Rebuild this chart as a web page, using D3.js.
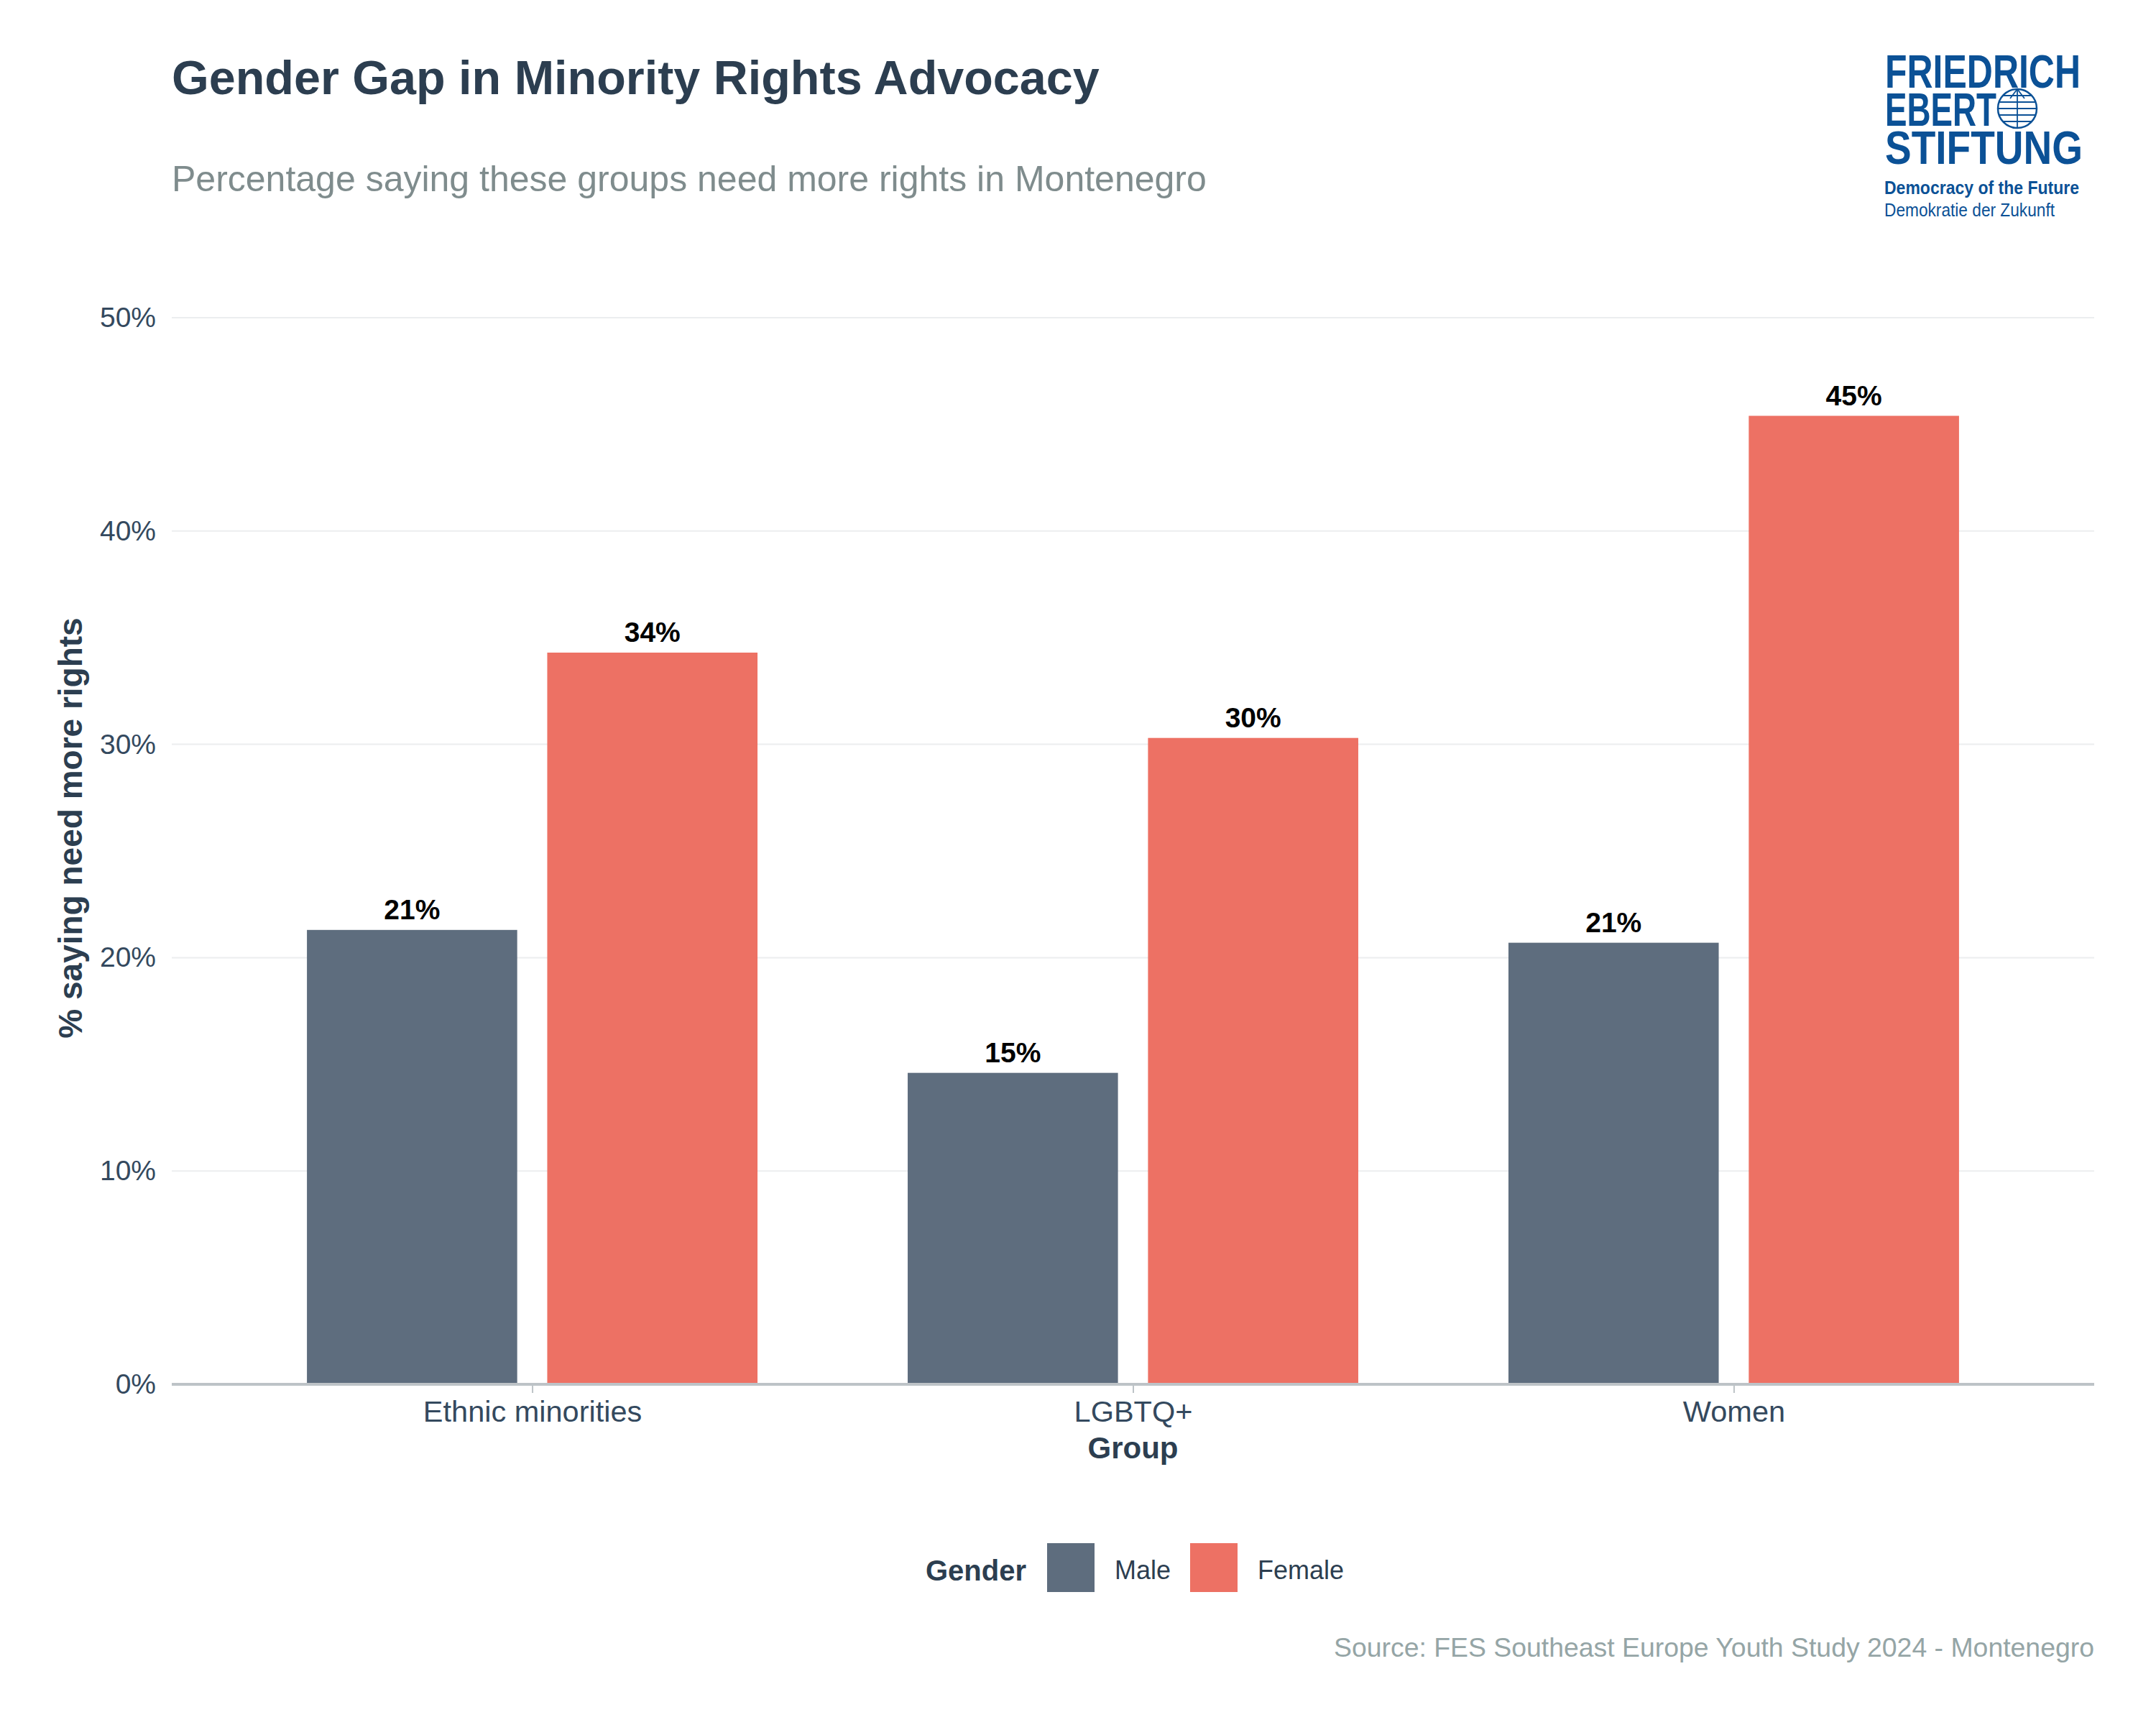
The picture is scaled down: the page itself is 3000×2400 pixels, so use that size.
<!DOCTYPE html>
<html lang="en">
<head>
<meta charset="UTF-8" />
<title>index</title>
<script src="https://d3js.org/d3.v7.min.js"></script>
<style>
  body { margin: 0; background: #ffffff; }
  text { font-family: "Liberation Sans", Arial, sans-serif; }
</style>
</head>
<body>
<div id="my_dataviz"></div>
<script>
// data
var groups = ["Ethnic minorities", "LGBTQ+", "Women"];
var genders = ["Male", "Female"];
var maleValues = [21.3, 14.6, 20.7];
var femaleValues = [34.3, 30.3, 45.4];
var yTicks = [0, 10, 20, 30, 40, 50];

var colors = { Male: "#5E6D7E", Female: "#ED7164" };

var W = 3000, H = 2400;
var margin = { top: 442, right: 86, bottom: 474, left: 239 };
var width = W - margin.left - margin.right,
    height = H - margin.top - margin.bottom;

var rows = [];
groups.forEach(function(g, i) {
  rows.push({ group: g, gender: "Male", value: maleValues[i] });
  rows.push({ group: g, gender: "Female", value: femaleValues[i] });
});

var svg = d3.select("#my_dataviz")
  .append("svg")
    .attr("width", W)
    .attr("height", H);

var g = svg.append("g")
    .attr("transform", "translate(" + margin.left + "," + margin.top + ")");

// x: ggplot style discrete scale, 0.6 expansion each side
var x = d3.scalePoint()
  .domain(groups)
  .range([0, width])
  .padding(0.6);
var step = x.step();
var x1 = d3.scaleBand()
  .domain(genders)
  .range([-0.4 * step, 0.4 * step]);
var barW = 0.35 * step;

var y = d3.scaleLinear()
  .domain([0, 50])
  .range([height, 0]);

// grid
g.selectAll(".grid")
  .data(yTicks.filter(function(d) { return d > 0; }))
  .enter().append("line")
    .attr("x1", 0).attr("x2", width)
    .attr("y1", function(d) { return y(d); })
    .attr("y2", function(d) { return y(d); })
    .attr("stroke", "#ECEEEF")
    .attr("stroke-width", 2);

// y axis labels
var yAxis = g.append("g")
  .call(d3.axisLeft(y).tickValues(yTicks).tickSize(0).tickPadding(22)
    .tickFormat(function(d) { return d + "%"; }));
yAxis.select(".domain").remove();
yAxis.selectAll("text")
  .attr("font-family", "Liberation Sans, Arial, sans-serif")
  .attr("font-size", 39)
  .attr("fill", "#34495E");

// bars
g.selectAll("rect.bar")
  .data(rows)
  .enter().append("rect")
    .attr("class", "bar")
    .attr("x", function(d) { return x(d.group) + x1(d.gender) + (x1.bandwidth() - barW) / 2; })
    .attr("y", function(d) { return y(d.value); })
    .attr("width", barW)
    .attr("height", function(d) { return height - y(d.value); })
    .attr("fill", function(d) { return colors[d.gender]; });

// value labels
g.selectAll("text.val")
  .data(rows)
  .enter().append("text")
    .attr("class", "val")
    .attr("x", function(d) { return x(d.group) + x1(d.gender) + x1.bandwidth() / 2; })
    .attr("y", function(d) { return y(d.value) - 15; })
    .attr("text-anchor", "middle")
    .attr("font-size", 39)
    .attr("font-weight", "bold")
    .attr("fill", "#000000")
    .text(function(d) { return Math.round(d.value) + "%"; });

// x axis
var xAxis = g.append("g")
  .attr("transform", "translate(0," + height + ")")
  .call(d3.axisBottom(x).tickSize(12).tickPadding(11));
xAxis.select(".domain")
  .attr("d", "M0,0H" + width)
  .attr("stroke", "#BDC3C7")
  .attr("stroke-width", 4);
xAxis.selectAll(".tick line").attr("stroke", "#BDC3C7").attr("stroke-width", 2);
xAxis.selectAll("text")
  .attr("font-family", "Liberation Sans, Arial, sans-serif")
  .attr("font-size", 41.5)
  .attr("fill", "#34495E");

// axis titles
g.append("text")
  .attr("x", x(groups[1]))
  .attr("y", height + 103)
  .attr("text-anchor", "middle")
  .attr("font-size", 42)
  .attr("font-weight", "bold")
  .attr("fill", "#2C3E50")
  .text("Group");

svg.append("text")
  .attr("transform", "translate(114,1152) rotate(-90)")
  .attr("text-anchor", "middle")
  .attr("font-size", 46)
  .attr("font-weight", "bold")
  .attr("fill", "#2C3E50")
  .text("% saying need more rights");

// title + subtitle
svg.append("text")
  .attr("x", 239).attr("y", 131)
  .attr("font-size", 66.5)
  .attr("font-weight", "bold")
  .attr("fill", "#2C3E50")
  .text("Gender Gap in Minority Rights Advocacy");

svg.append("text")
  .attr("x", 239).attr("y", 266)
  .attr("font-size", 50)
  .attr("fill", "#7F8C8D")
  .text("Percentage saying these groups need more rights in Montenegro");

// legend
var legend = svg.append("g").attr("transform", "translate(0,2147)");
legend.append("text")
  .attr("x", 1288).attr("y", 52)
  .attr("font-size", 40)
  .attr("font-weight", "bold")
  .attr("fill", "#2C3E50")
  .text("Gender");
var legX = { Male: 1457, Female: 1656 };
genders.forEach(function(k) {
  legend.append("rect")
    .attr("x", legX[k]).attr("y", 0)
    .attr("width", 66).attr("height", 68)
    .attr("fill", colors[k]);
  legend.append("text")
    .attr("x", legX[k] + 94).attr("y", 50)
    .attr("font-size", 36)
    .attr("fill", "#2C3E50")
    .text(k);
});

// source
svg.append("text")
  .attr("x", 2914).attr("y", 2305)
  .attr("text-anchor", "end")
  .attr("font-size", 37.4)
  .attr("fill", "#95A5A6")
  .text("Source: FES Southeast Europe Youth Study 2024 - Montenegro");

// logo
var blue = "#0B5196";
var logo = svg.append("g");
function logoLine(txt, yy, x0, len) {
  logo.append("text")
    .attr("x", x0).attr("y", yy)
    .attr("font-family", "Liberation Sans Narrow, Liberation Sans, Arial, sans-serif")
    .attr("font-size", 64)
    .attr("font-weight", "bold")
    .attr("fill", blue)
    .attr("textLength", len)
    .attr("lengthAdjust", "spacingAndGlyphs")
    .text(txt);
}
logoLine("FRIEDRICH", 122, 2623, 272);
logoLine("EBERT", 175, 2623, 155);
logoLine("STIFTUNG", 228, 2623, 275);
// globe
var gx = 2807, gy = 151, gr = 27;
logo.append("circle").attr("cx", gx).attr("cy", gy).attr("r", gr)
  .attr("fill", "none").attr("stroke", blue).attr("stroke-width", 2.5);
[-18, -9, 0, 9, 18].forEach(function(dy) {
  var hw = Math.sqrt(gr * gr - dy * dy);
  logo.append("line").attr("x1", gx - hw).attr("x2", gx + hw)
    .attr("y1", gy + dy).attr("y2", gy + dy)
    .attr("stroke", blue).attr("stroke-width", 1.8);
});
logo.append("line").attr("x1", gx).attr("x2", gx).attr("y1", gy - gr).attr("y2", gy + gr)
  .attr("stroke", blue).attr("stroke-width", 1.8);
logo.append("path").attr("d", "M" + (gx - 10) + "," + (gy - 14) + "L" + gx + "," + (gy - gr) + "L" + (gx + 10) + "," + (gy - 14))
  .attr("fill", "none").attr("stroke", blue).attr("stroke-width", 1.8);
logo.append("text")
  .attr("x", 2622).attr("y", 270)
  .attr("font-size", 25).attr("font-weight", "bold").attr("fill", blue)
  .attr("textLength", 271).attr("lengthAdjust", "spacingAndGlyphs")
  .text("Democracy of the Future");
logo.append("text")
  .attr("x", 2622).attr("y", 301)
  .attr("font-size", 25).attr("fill", blue)
  .attr("textLength", 237).attr("lengthAdjust", "spacingAndGlyphs")
  .text("Demokratie der Zukunft");
</script>
</body>
</html>
